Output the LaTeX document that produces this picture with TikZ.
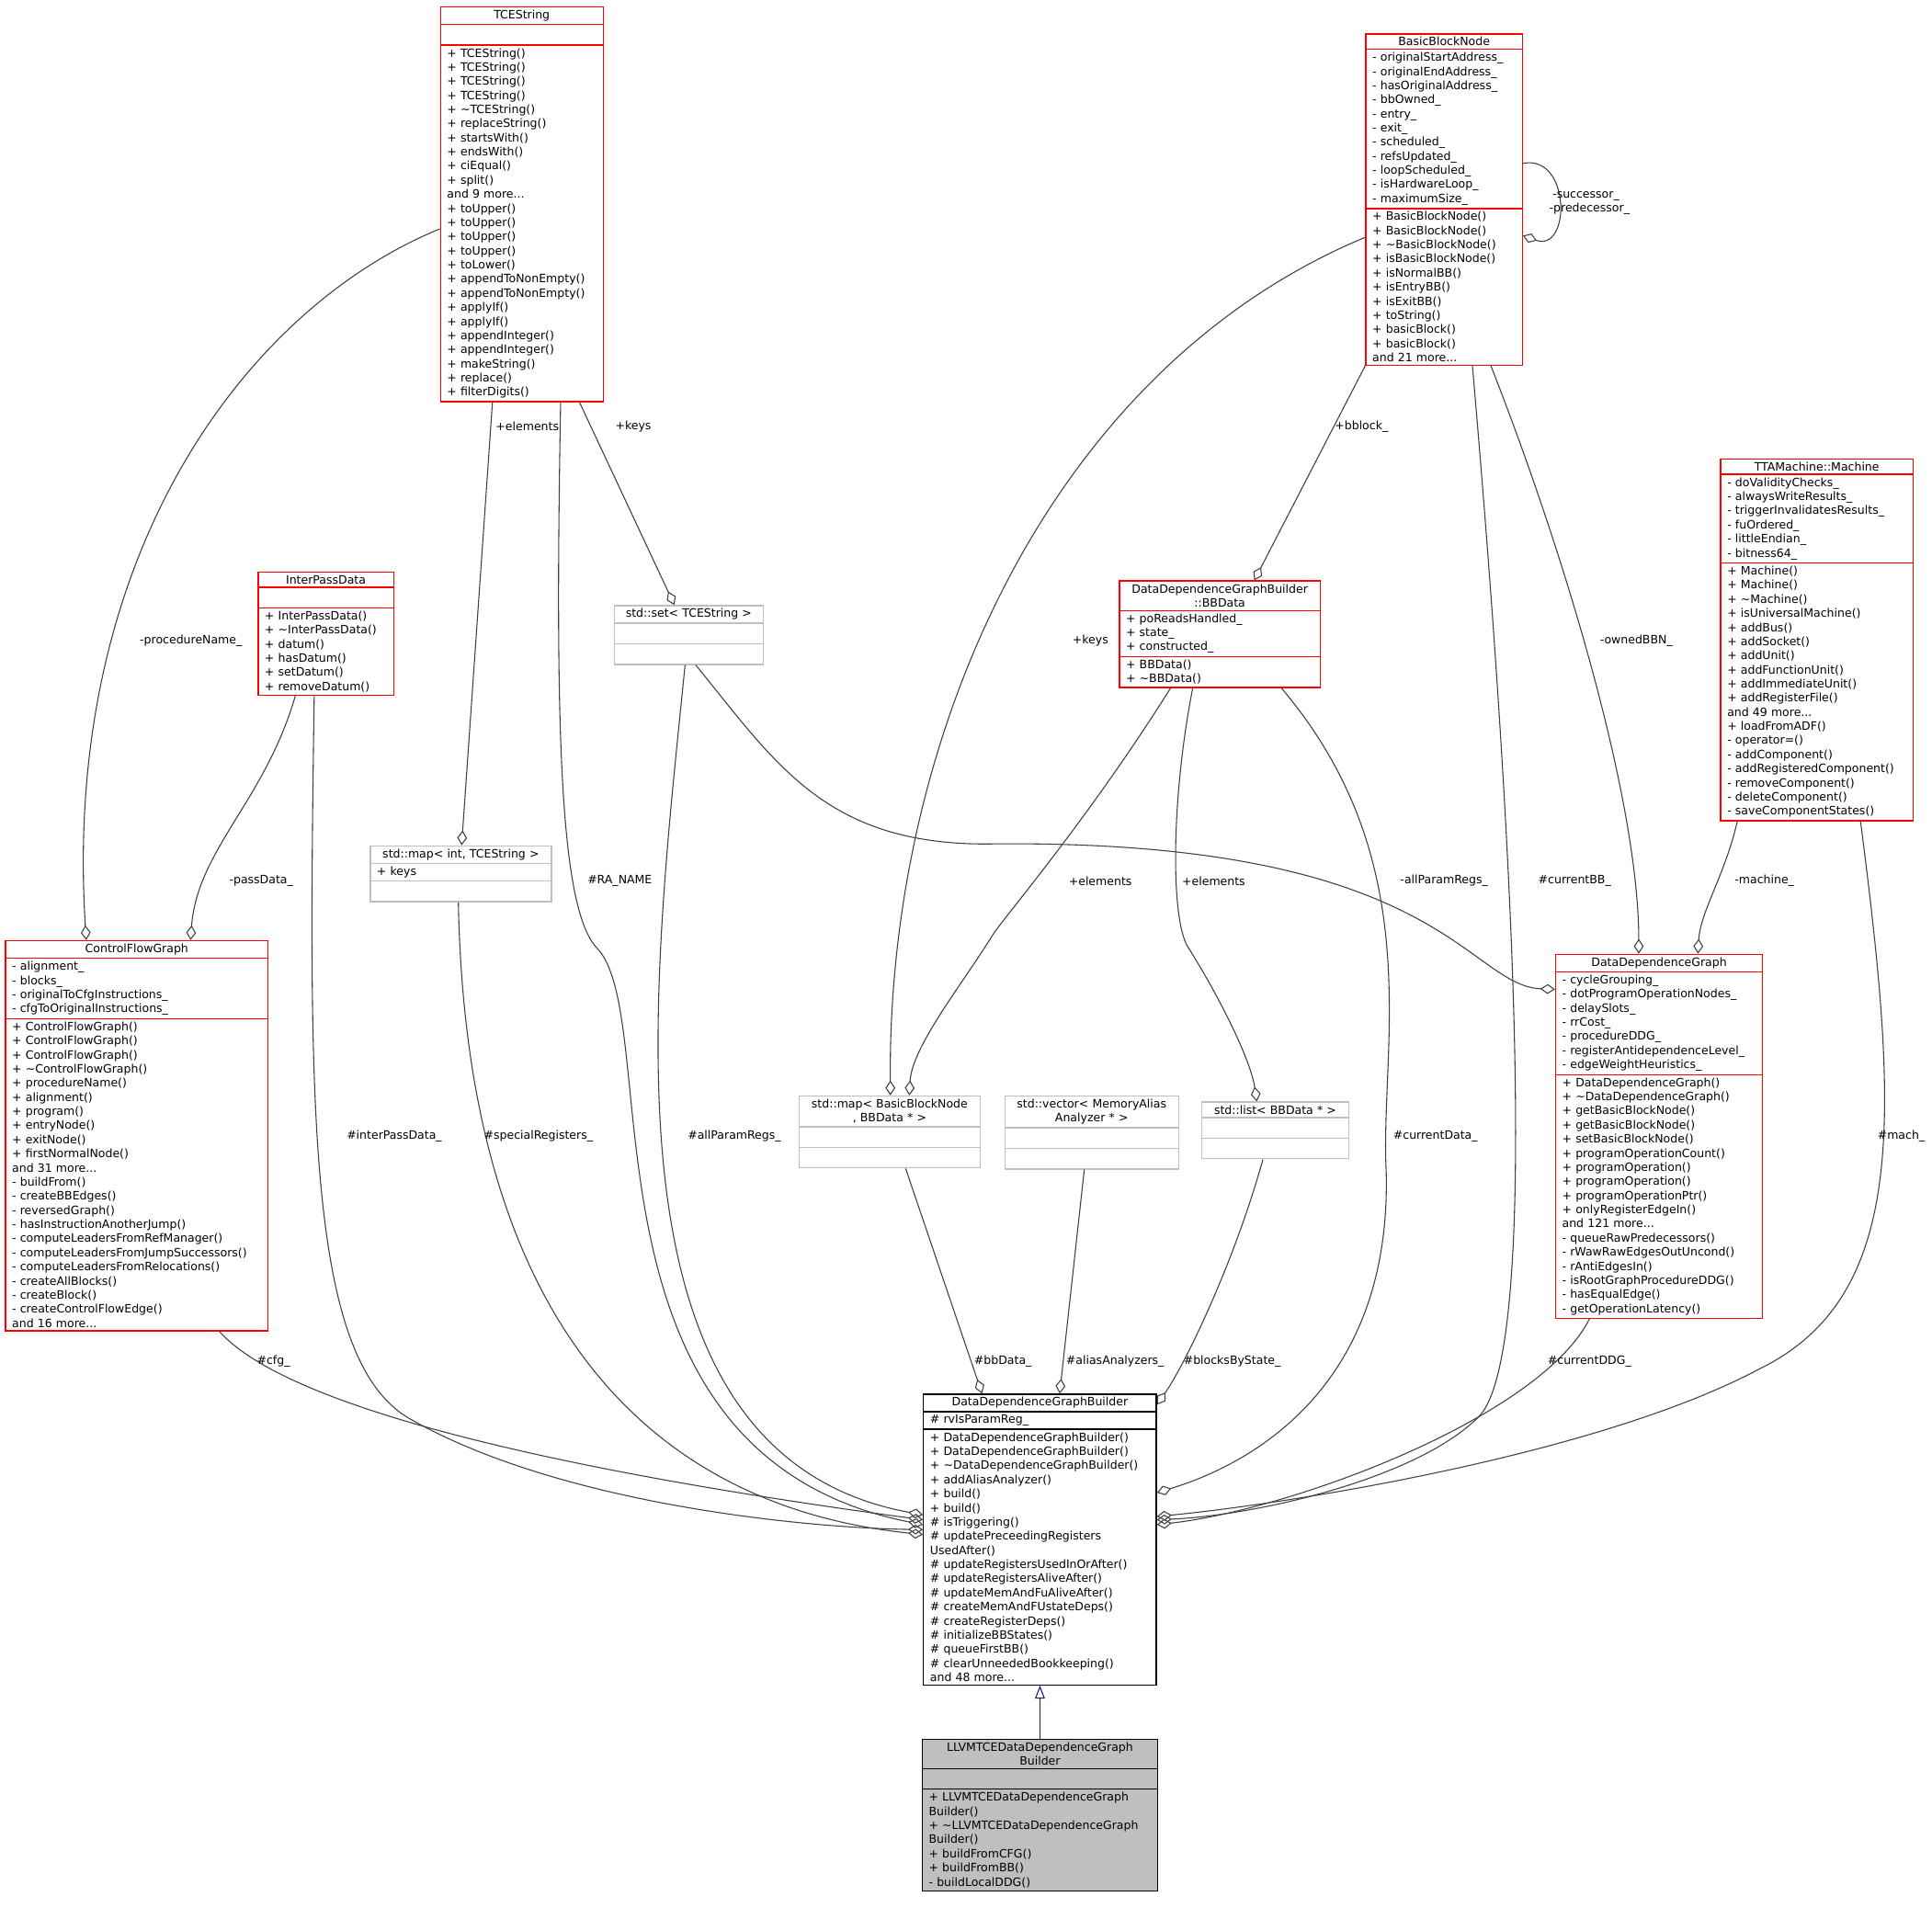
\documentclass[tikz,border=0pt]{standalone}
\usepackage{fontspec}
\setmainfont{DejaVu Sans}
\usetikzlibrary{shapes.multipart,arrows.meta}
\definecolor{edge}{HTML}{404040}
\definecolor{boxred}{HTML}{FF0000}
\definecolor{boxgrey}{HTML}{BFBFBF}
\definecolor{navy}{HTML}{191970}
\tikzset{
  cls/.style={rectangle split, rectangle split parts=3, draw=boxred, line width=0.75pt,
    anchor=north west, inner xsep=4pt, inner ysep=1.6pt, align=left,
    font=\fontsize{7}{8.6}\selectfont},
  ext/.style={cls, draw=boxgrey},
  main/.style={cls, draw=black},
  agg/.style={draw=edge, line width=0.6pt, -{Diamond[open,length=9pt,width=6pt]}},
  inh/.style={draw=navy, line width=0.6pt, -{Triangle[open,length=8pt,width=6pt]}},
  lbl/.style={font=\fontsize{7}{8.25}\selectfont, inner sep=1pt}
}
\newcommand{\ctr}[1]{{\centering #1\par}}
\begin{document}
\begin{tikzpicture}[x=0.75pt,y=-0.75pt]
\fill[white] (0,0) rectangle (1568,1548.6);
\useasboundingbox (0,0) rectangle (1568,1548.6);

\node[cls, text width=91pt] (tce) at (357,5) {\ctr{TCEString}\nodepart{second}\strut\\[-4pt]\nodepart{third}+ TCEString()\\+ TCEString()\\+ TCEString()\\+ TCEString()\\+ \textasciitilde TCEString()\\+ replaceString()\\+ startsWith()\\+ endsWith()\\+ ciEqual()\\+ split()\\and 9 more...\\+ toUpper()\\+ toUpper()\\+ toUpper()\\+ toUpper()\\+ toLower()\\+ appendToNonEmpty()\\+ appendToNonEmpty()\\+ applyIf()\\+ applyIf()\\+ appendInteger()\\+ appendInteger()\\+ makeString()\\+ replace()\\+ filterDigits()};

\node[cls, text width=87.25pt] (bbn) at (1108,27) {\ctr{BasicBlockNode}\nodepart{second}- originalStartAddress\_\\- originalEndAddress\_\\- hasOriginalAddress\_\\- bbOwned\_\\- entry\_\\- exit\_\\- scheduled\_\\- refsUpdated\_\\- loopScheduled\_\\- isHardwareLoop\_\\- maximumSize\_\nodepart{third}+ BasicBlockNode()\\+ BasicBlockNode()\\+ \textasciitilde BasicBlockNode()\\+ isBasicBlockNode()\\+ isNormalBB()\\+ isEntryBB()\\+ isExitBB()\\+ toString()\\+ basicBlock()\\+ basicBlock()\\and 21 more...};

\node[cls, text width=109pt] (mach) at (1396,372) {\ctr{TTAMachine::Machine}\nodepart{second}- doValidityChecks\_\\- alwaysWriteResults\_\\- triggerInvalidatesResults\_\\- fuOrdered\_\\- littleEndian\_\\- bitness64\_\nodepart{third}+ Machine()\\+ Machine()\\+ \textasciitilde Machine()\\+ isUniversalMachine()\\+ addBus()\\+ addSocket()\\+ addUnit()\\+ addFunctionUnit()\\+ addImmediateUnit()\\+ addRegisterFile()\\and 49 more...\\+ loadFromADF()\\- operator=()\\- addComponent()\\- addRegisteredComponent()\\- removeComponent()\\- deleteComponent()\\- saveComponentStates()};

\node[cls, text width=74.5pt] (ipd) at (209,464) {\ctr{InterPassData}\nodepart{second}\strut\\[-4pt]\nodepart{third}+ InterPassData()\\+ \textasciitilde InterPassData()\\+ datum()\\+ hasDatum()\\+ setDatum()\\+ removeDatum()};

\node[ext, text width=82.75pt] (set) at (498,491) {\ctr{std::set< TCEString >}\nodepart{second}\strut\nodepart{third}\strut};

\node[cls, text width=114.25pt] (bbd) at (908,471) {\ctr{DataDependenceGraphBuilder\\::BBData}\nodepart{second}+ poReadsHandled\_\\+ state\_\\+ constructed\_\nodepart{third}+ BBData()\\+ \textasciitilde BBData()};

\node[ext, text width=102.25pt] (mapint) at (300,686) {\ctr{std::map< int, TCEString >}\nodepart{second}+ keys\nodepart{third}\strut};

\node[cls, text width=151.75pt] (cfg) at (4,763) {\ctr{ControlFlowGraph}\nodepart{second}- alignment\_\\- blocks\_\\- originalToCfgInstructions\_\\- cfgToOriginalInstructions\_\nodepart{third}+ ControlFlowGraph()\\+ ControlFlowGraph()\\+ ControlFlowGraph()\\+ \textasciitilde ControlFlowGraph()\\+ procedureName()\\+ alignment()\\+ program()\\+ entryNode()\\+ exitNode()\\+ firstNormalNode()\\and 31 more...\\- buildFrom()\\- createBBEdges()\\- reversedGraph()\\- hasInstructionAnotherJump()\\- computeLeadersFromRefManager()\\- computeLeadersFromJumpSuccessors()\\- computeLeadersFromRelocations()\\- createAllBlocks()\\- createBlock()\\- createControlFlowEdge()\\and 16 more...};

\node[cls, text width=118pt] (ddg) at (1262,774) {\ctr{DataDependenceGraph}\nodepart{second}- cycleGrouping\_\\- dotProgramOperationNodes\_\\- delaySlots\_\\- rrCost\_\\- procedureDDG\_\\- registerAntidependenceLevel\_\\- edgeWeightHeuristics\_\nodepart{third}+ DataDependenceGraph()\\+ \textasciitilde DataDependenceGraph()\\+ getBasicBlockNode()\\+ getBasicBlockNode()\\+ setBasicBlockNode()\\+ programOperationCount()\\+ programOperation()\\+ programOperation()\\+ programOperationPtr()\\+ onlyRegisterEdgeIn()\\and 121 more...\\- queueRawPredecessors()\\- rWawRawEdgesOutUncond()\\- rAntiEdgesIn()\\- isRootGraphProcedureDDG()\\- hasEqualEdge()\\- getOperationLatency()};

\node[ext, text width=102.25pt] (mapbbn) at (648,889) {\ctr{std::map< BasicBlockNode\\ *, BBData * >}\nodepart{second}\strut\nodepart{third}\strut};
\node[ext, text width=97.75pt] (vec) at (815,889) {\ctr{std::vector< MemoryAlias\\Analyzer * >}\nodepart{second}\strut\nodepart{third}\strut};
\node[ext, text width=81.25pt] (list) at (975,894) {\ctr{std::list< BBData * >}\nodepart{second}\strut\nodepart{third}\strut};

\node[main, text width=133.75pt] (db) at (749,1131) {\ctr{DataDependenceGraphBuilder}\nodepart{second}\# rvIsParamReg\_\nodepart{third}+ DataDependenceGraphBuilder()\\+ DataDependenceGraphBuilder()\\+ \textasciitilde DataDependenceGraphBuilder()\\+ addAliasAnalyzer()\\+ build()\\+ build()\\\# isTriggering()\\\# updatePreceedingRegisters\\UsedAfter()\\\# updateRegistersUsedInOrAfter()\\\# updateRegistersAliveAfter()\\\# updateMemAndFuAliveAfter()\\\# createMemAndFUstateDeps()\\\# createRegisterDeps()\\\# initializeBBStates()\\\# queueFirstBB()\\\# clearUnneededBookkeeping()\\and 48 more...};

\node[main, text width=135.25pt, rectangle split part fill={boxgrey}] (llvm) at (748,1411) {\ctr{LLVMTCEDataDependenceGraph\\Builder}\nodepart{second}\strut\nodepart{third}+ LLVMTCEDataDependenceGraph\\Builder()\\+ \textasciitilde LLVMTCEDataDependenceGraph\\Builder()\\+ buildFromCFG()\\+ buildFromBB()\\- buildLocalDDG()};

% edges to misc
\draw[agg] ([yshift=-15pt]tce.west) .. controls (200,250) and (50,450) .. ([xshift=49.5pt]cfg.north west);
\node[lbl] (l1) at (155,520) {-procedureName\_};
\draw[agg] ([xshift=23pt]ipd.south west) .. controls (215,650) and (160,690) .. ([xshift=113pt]cfg.north west);
\node[lbl] (l2) at (212,715) {-passData\_};
\draw[agg] ([xshift=32pt]tce.south west) -- ([xshift=56pt]mapint.north west);
\node[lbl] (l3) at (428,346) {+elements};
\draw[agg] ([xshift=85pt]tce.south west) -- ([xshift=37pt]set.north west);
\node[lbl] (l4) at (514,346) {+keys};
\draw[agg] ([yshift=-23pt]bbn.west) .. controls (850,300) and (720,600) .. ([xshift=56pt]mapbbn.north west);
\node[lbl] (l5) at (885,520) {+keys};
\draw[agg] ([yshift=22pt]bbn.east) .. controls (1275,125) and (1275,205) .. ([yshift=-22pt]bbn.east);
\node[lbl, align=left] (l6) at (1290,165) {\hspace*{2pt}-successor\_\\-predecessor\_};
\draw[agg] (bbn.south west) -- ([xshift=82.5pt]bbd.north west);
\node[lbl] (l7) at (1105,346) {+bblock\_};
\draw[agg] ([xshift=76.5pt]bbn.south west) .. controls (1270,450) and (1330,650) .. ([xshift=51pt]ddg.north west);
\node[lbl] (l8) at (1328,520) {-ownedBBN\_};
\draw[agg] ([xshift=10.5pt]mach.south west) .. controls (1400,710) and (1380,740) .. ([xshift=87pt]ddg.north west);
\node[lbl] (l9) at (1432,715) {-machine\_};
\draw[agg] ([xshift=31.5pt]bbd.south west) .. controls (880,670) and (810,750) .. (805,760) .. controls (780,800) and (740,850) .. ([xshift=67.5pt]mapbbn.north west);
\node[lbl] (l10) at (893,715) {+elements};
\draw[agg] ([xshift=45pt]bbd.south west) .. controls (950,650) and (950,750) .. (965,770) .. controls (990,810) and (1015,860) .. ([xshift=33.75pt]list.north west);
\node[lbl] (l11) at (985,715) {+elements};
\draw[agg] ([xshift=50pt]set.south west) .. controls (630,620) and (670,685) .. (800,685) .. controls (1170,680) and (1190,800) .. ([yshift=-21.75pt]ddg.north west);
\node[lbl] (l12) at (1172,715) {-allParamRegs\_};

% edges to builder
\draw[agg] ([xshift=130.5pt]cfg.south west) .. controls (240,1150) and (500,1200) .. ([yshift=12pt]db.west);
\node[lbl] (l13) at (222,1105) {\#cfg\_};
\draw[agg] ([xshift=34.5pt]ipd.south west) .. controls (250,900) and (250,1100) .. (330,1150) .. controls (450,1220) and (650,1240) .. ([yshift=6pt]db.west);
\node[lbl] (l14) at (320,922) {\#interPassData\_};
\draw[agg] ([xshift=54pt]mapint.south west) .. controls (380,1150) and (600,1230) .. ([yshift=3pt]db.west);
\node[lbl] (l15) at (437,922) {\#specialRegisters\_};
\draw[agg] ([xshift=73.5pt]tce.south west) .. controls (450,600) and (455,740) .. (485,770) .. controls (540,830) and (460,1180) .. ([yshift=9pt]db.west);
\node[lbl] (l16) at (503,715) {\#RA\_NAME};
\draw[agg] ([xshift=43.5pt]set.south west) .. controls (530,800) and (480,1180) .. ([yshift=15pt]db.west);
\node[lbl] (l17) at (596,922) {\#allParamRegs\_};
\draw[agg] ([xshift=65.25pt]mapbbn.south west) -- ([xshift=36pt]db.north west);
\node[lbl] (l18) at (814,1105) {\#bbData\_};
\draw[agg] ([xshift=48.75pt]vec.south west) -- ([xshift=83.25pt]db.north west);
\node[lbl] (l19) at (905,1105) {\#aliasAnalyzers\_};
\draw[agg] ([xshift=37.5pt]list.south west) .. controls (1000,1030) and (960,1110) .. ([yshift=-6.75pt]db.north east);
\node[lbl] (l20) at (1000,1105) {\#blocksByState\_};
\draw[agg] ([xshift=99pt]bbd.south west) .. controls (1160,700) and (1120,850) .. (1125,950) .. controls (1130,1130) and (1010,1190) .. ([yshift=28.5pt]db.east);
\node[lbl] (l21) at (1165,922) {\#currentData\_};
\draw[agg] ([xshift=65.25pt]bbn.south west) .. controls (1230,700) and (1250,1100) .. (1200,1150) .. controls (1150,1200) and (1020,1230) .. ([yshift=12pt]db.east);
\node[lbl] (l22) at (1278,715) {\#currentBB\_};
\draw[agg] ([xshift=21pt]ddg.south west) .. controls (1250,1150) and (1050,1225) .. ([yshift=9pt]db.east);
\node[lbl] (l23) at (1290,1105) {\#currentDDG\_};
\draw[agg] ([xshift=85.5pt]mach.south west) .. controls (1540,900) and (1550,1050) .. (1430,1110) .. controls (1300,1180) and (1050,1220) .. ([yshift=14pt]db.east);
\node[lbl] (l24) at (1543,922) {\#mach\_};

\draw[inh] (llvm.north) -- (db.south);
\end{tikzpicture}
\end{document}
